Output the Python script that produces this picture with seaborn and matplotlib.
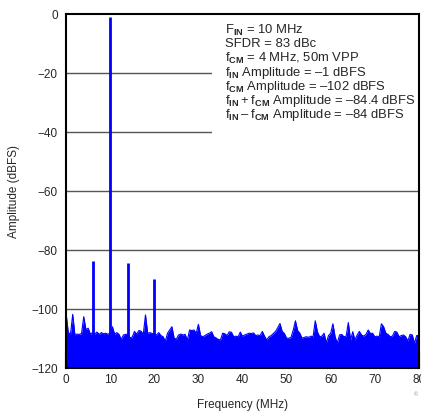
import matplotlib
matplotlib.use("Agg")
import matplotlib.pyplot as plt
import seaborn as sns
import numpy as np
import pandas as pd
from matplotlib.patches import Rectangle

sns.set_style("white")
plt.rcParams["font.family"] = ["Liberation Sans", "DejaVu Sans"]
plt.rcParams["mathtext.fontset"] = "custom"
plt.rcParams["mathtext.rm"] = "Liberation Sans"
plt.rcParams["mathtext.bf"] = "Liberation Sans:bold"

# noise floor, one value per 0.5 MHz from 0 to 80 MHz (dBFS)
noise_db = [
    -101.5, -108, -108.5, -101.8, -108.8, -108.5, -108.6, -108.3, -102.6, -107,
    -106.5, -108.5, -108, -108.5, -107.8, -108.6, -108, -108.4, -108.2, -108.6,
    -108, -106, -108.5, -108, -108.6, -110.3, -108.8, -108.6, -108.5, -109.8,
    -109.5, -107.6, -108.5, -107.3, -107.5, -108.6, -102, -108.2, -108, -108.3,
    -108.5, -108.8, -108, -109, -109.4, -110.9, -108.2, -107.1, -106, -109.9,
    -110.2, -108.8, -108.5, -108.8, -108.6, -110.5, -107.1, -107.3, -107.1, -108.2,
    -105.2, -109, -109.4, -109, -108.5, -108.2, -107.7, -109.4, -109.8, -110.3,
    -110.5, -108.2, -108.4, -109, -107.7, -107.9, -109.4, -109.2, -109.4, -107.8,
    -109.2, -108.8, -108.5, -108.2, -108.3, -108.1, -109, -108.8, -109, -107.6,
    -109.2, -110.5, -109.4, -109, -108.3, -107.6, -106.3, -104.9, -107.6, -108.3,
    -109.9, -109.9, -109.6, -107.2, -104, -107.3, -108.2, -109.9, -109.6, -109.4,
    -109.6, -109.2, -109.4, -104, -107.8, -109.4, -109.2, -108.2, -111.5, -109,
    -108.2, -105, -109.4, -111.6, -108.8, -108.6, -109.4, -109.2, -104.6, -110.5,
    -107.7, -110.5, -108.8, -107.6, -108.8, -109.2, -108.6, -107.1, -108.3, -108.2,
    -109.4, -109.2, -109.4, -105, -106, -108.2, -108.6, -109.4, -109.2, -107.6,
    -107.8, -109.4, -109, -108.8, -109.4, -110.8, -108.6, -108.8, -111.6, -109,
    -109,
]
freq_step = 0.5

# tones: fin-fcm, fin, fin+fcm, 2*fin
spike_mhz = [6, 10, 14, 20]
spike_db = [-83.8, -1, -84.4, -89.9]

info_lines = [
    "F$_{\\mathbf{IN}}$ = 10 MHz",
    "SFDR = 83 dBc",
    "f$_{\\mathbf{CM}}$ = 4 MHz, 50m VPP",
    "f$_{\\mathbf{IN}}$ Amplitude = \u20131 dBFS",
    "f$_{\\mathbf{CM}}$ Amplitude = \u2013102 dBFS",
    "f$_{\\mathbf{IN}}$\u2009+\u2009f$_{\\mathbf{CM}}$ Amplitude = \u201384.4 dBFS",
    "f$_{\\mathbf{IN}}$\u2009\u2013\u2009f$_{\\mathbf{CM}}$ Amplitude = \u201384 dBFS",
]

df = pd.DataFrame({
    "freq": np.arange(len(noise_db)) * freq_step,
    "amp": noise_db,
})

blue = "#0000ff"

fig = plt.figure(figsize=(4.21, 4.17), dpi=100)
ax = fig.add_axes([0.157, 0.1175, 0.838, 0.8485])

sns.lineplot(data=df, x="freq", y="amp", color=blue, lw=0.8, ax=ax, zorder=3)
ax.fill_between(df["freq"], -120, df["amp"], color=blue, lw=0, zorder=3)
ax.vlines(spike_mhz, -120, spike_db, color=blue, lw=2, zorder=3)

ax.set_xlim(0, 80)
ax.set_ylim(-120, 0)
ax.set_xticks(range(0, 81, 10))
ax.set_yticks(range(-120, 1, 20))

for yv in range(-100, 0, 20):
    ax.axhline(yv, color="#555555", lw=1, zorder=1)

ax.tick_params(axis="x", direction="in", length=12, width=1.5, color="black",
               labelsize=8.5, pad=4)
ax.tick_params(axis="y", length=0, labelsize=8.5, pad=6)
ax.xaxis.set_ticks_position("bottom")
for sp in ax.spines.values():
    sp.set_color("black")
    sp.set_linewidth(1.5)
    sp.set_zorder(5)
for tl in ax.get_xticklines():
    tl.set_zorder(6)

ax.set_xlabel("Frequency (MHz)", fontsize=8.5, labelpad=10)
ax.set_ylabel("Amplitude (dBFS)", fontsize=8.5, labelpad=8)

# white box behind the conditions text
ax.add_patch(Rectangle((33, -41), 47, 41, facecolor="white", edgecolor="none", zorder=2))
for i, line in enumerate(info_lines):
    ax.text(36, -5.4 - i * 4.8, line, fontsize=9.4, va="center", ha="left", zorder=4)

fig.text(0.983, 0.05, "\u00a9", fontsize=4, color="#888888")

fig.savefig("out.png", dpi=100)
